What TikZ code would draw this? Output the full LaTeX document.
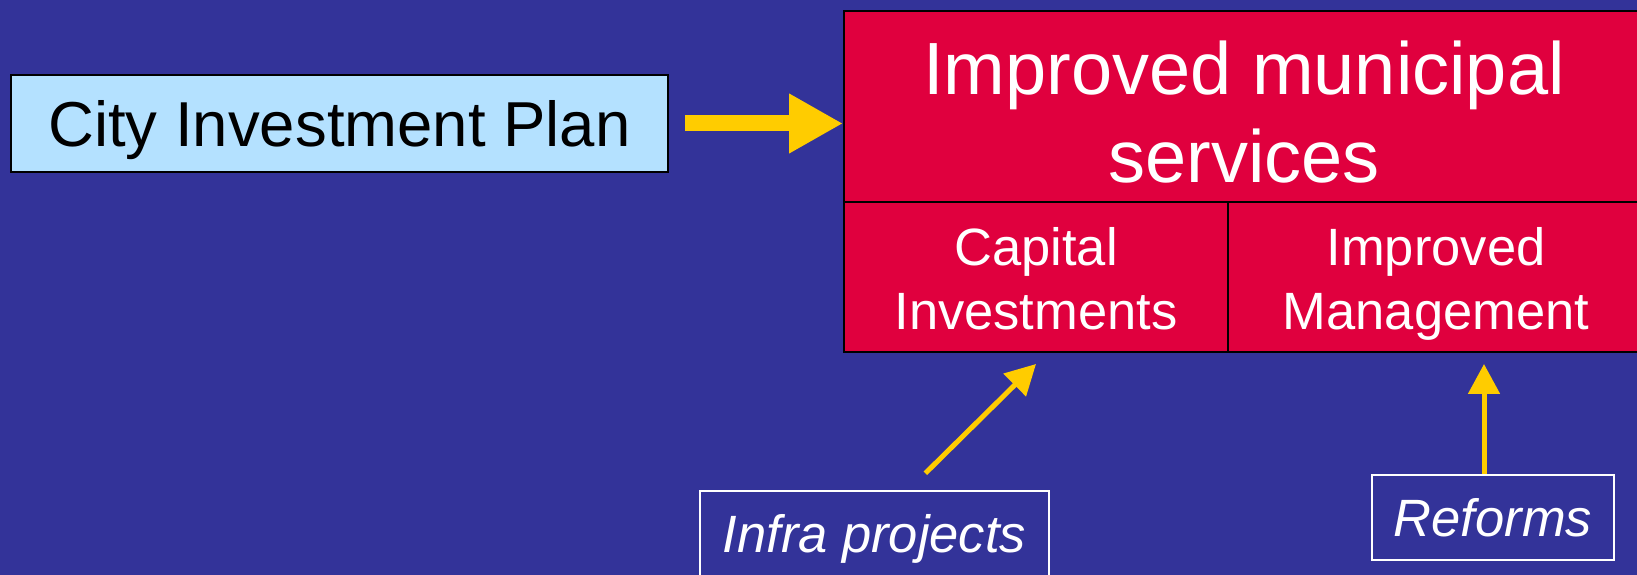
\documentclass[tikz,border=0pt]{standalone}
\usepackage{fontspec}
\setmainfont{Liberation Sans}
\usepackage{tikz}
\usetikzlibrary{arrows.meta,positioning,calc}
\definecolor{slide}{HTML}{333399}
\definecolor{planblue}{HTML}{B4E1FF}
\definecolor{goalred}{HTML}{E0003E}
\definecolor{arrowgold}{HTML}{FFCC00}
\tikzset{
	planbox/.style = {
			rectangle,
			draw            = black,
			line width      = 0.02cm,
			fill            = planblue,
			inner sep       = 0pt,
			font            = \fontsize{0.635cm}{0.76cm}\selectfont,
			text height     = 0.455cm,
			text depth      = 0pt,
		},
	goalbox/.style = {
			rectangle,
			draw            = black,
			line width      = 0.02cm,
			fill            = goalred,
			inner sep       = 0pt,
			text            = white,
			align           = center,
		},
	partbox/.style = {
			goalbox,
			minimum height  = 1.5cm,
			font            = \fontsize{0.525cm}{0.64cm}\selectfont,
			text height     = 1.06cm,
			text depth      = 0pt,
		},
	inputbox/.style = {
			rectangle,
			draw            = white,
			line width      = 0.015cm,
			inner sep       = 0pt,
			text            = white,
			minimum height  = 0.85cm,
			font            = \fontsize{0.525cm}{0.64cm}\selectfont\itshape,
			text height     = 0.375cm,
			text depth      = 0pt,
		},
	bigarrow/.style = {
			draw = arrowgold, line width = 0.16cm,
			-{Triangle[length=0.54cm,width=0.56cm]},
		},
	thinarrow/.style = {
			draw = arrowgold, line width = 0.05cm,
			-{Triangle[length=0.30cm,width=0.31cm]},
		},
}
\begin{document}
\begin{tikzpicture}
        \fill[slide] (0,0) rectangle (16.37,5.75);
        \useasboundingbox (0,0) rectangle (16.37,5.75);
        \node[planbox, minimum width=6.57cm, minimum height=0.97cm] at (3.395,4.515) (plan) {City Investment Plan};
        \node[goalbox, minimum width=8cm, minimum height=1.91cm, font=\fontsize{0.74cm}{0.88cm}\selectfont, text height=1.53cm, text depth=0pt] at (12.44,4.685) (goal) {Improved municipal\\services};
        \node[partbox, minimum width=3.84cm] at (10.36,2.98) (capital) {Capital\\Investments};
        \node[partbox, minimum width=4.16cm] at (14.36,2.98) (mgmt) {Improved\\Management};
        \node[inputbox, minimum width=3.49cm] at (8.744,0.415) (infra) {Infra projects};
        \node[inputbox, minimum width=2.42cm] at (14.93,0.575) (reforms) {Reforms};
        \draw[bigarrow] ([xshift=0.16cm]plan.east) -- (plan.east -| goal.west);
        \draw[thinarrow] ([shift={(0.51,0.17)}]infra.north) -- ([yshift=-0.11cm]capital.south);
        \draw[thinarrow] ([xshift=-0.09cm]reforms.north) -- ($(reforms.north |- mgmt.south)+(-0.09,-0.11)$);
      \end{tikzpicture}
\end{document}
